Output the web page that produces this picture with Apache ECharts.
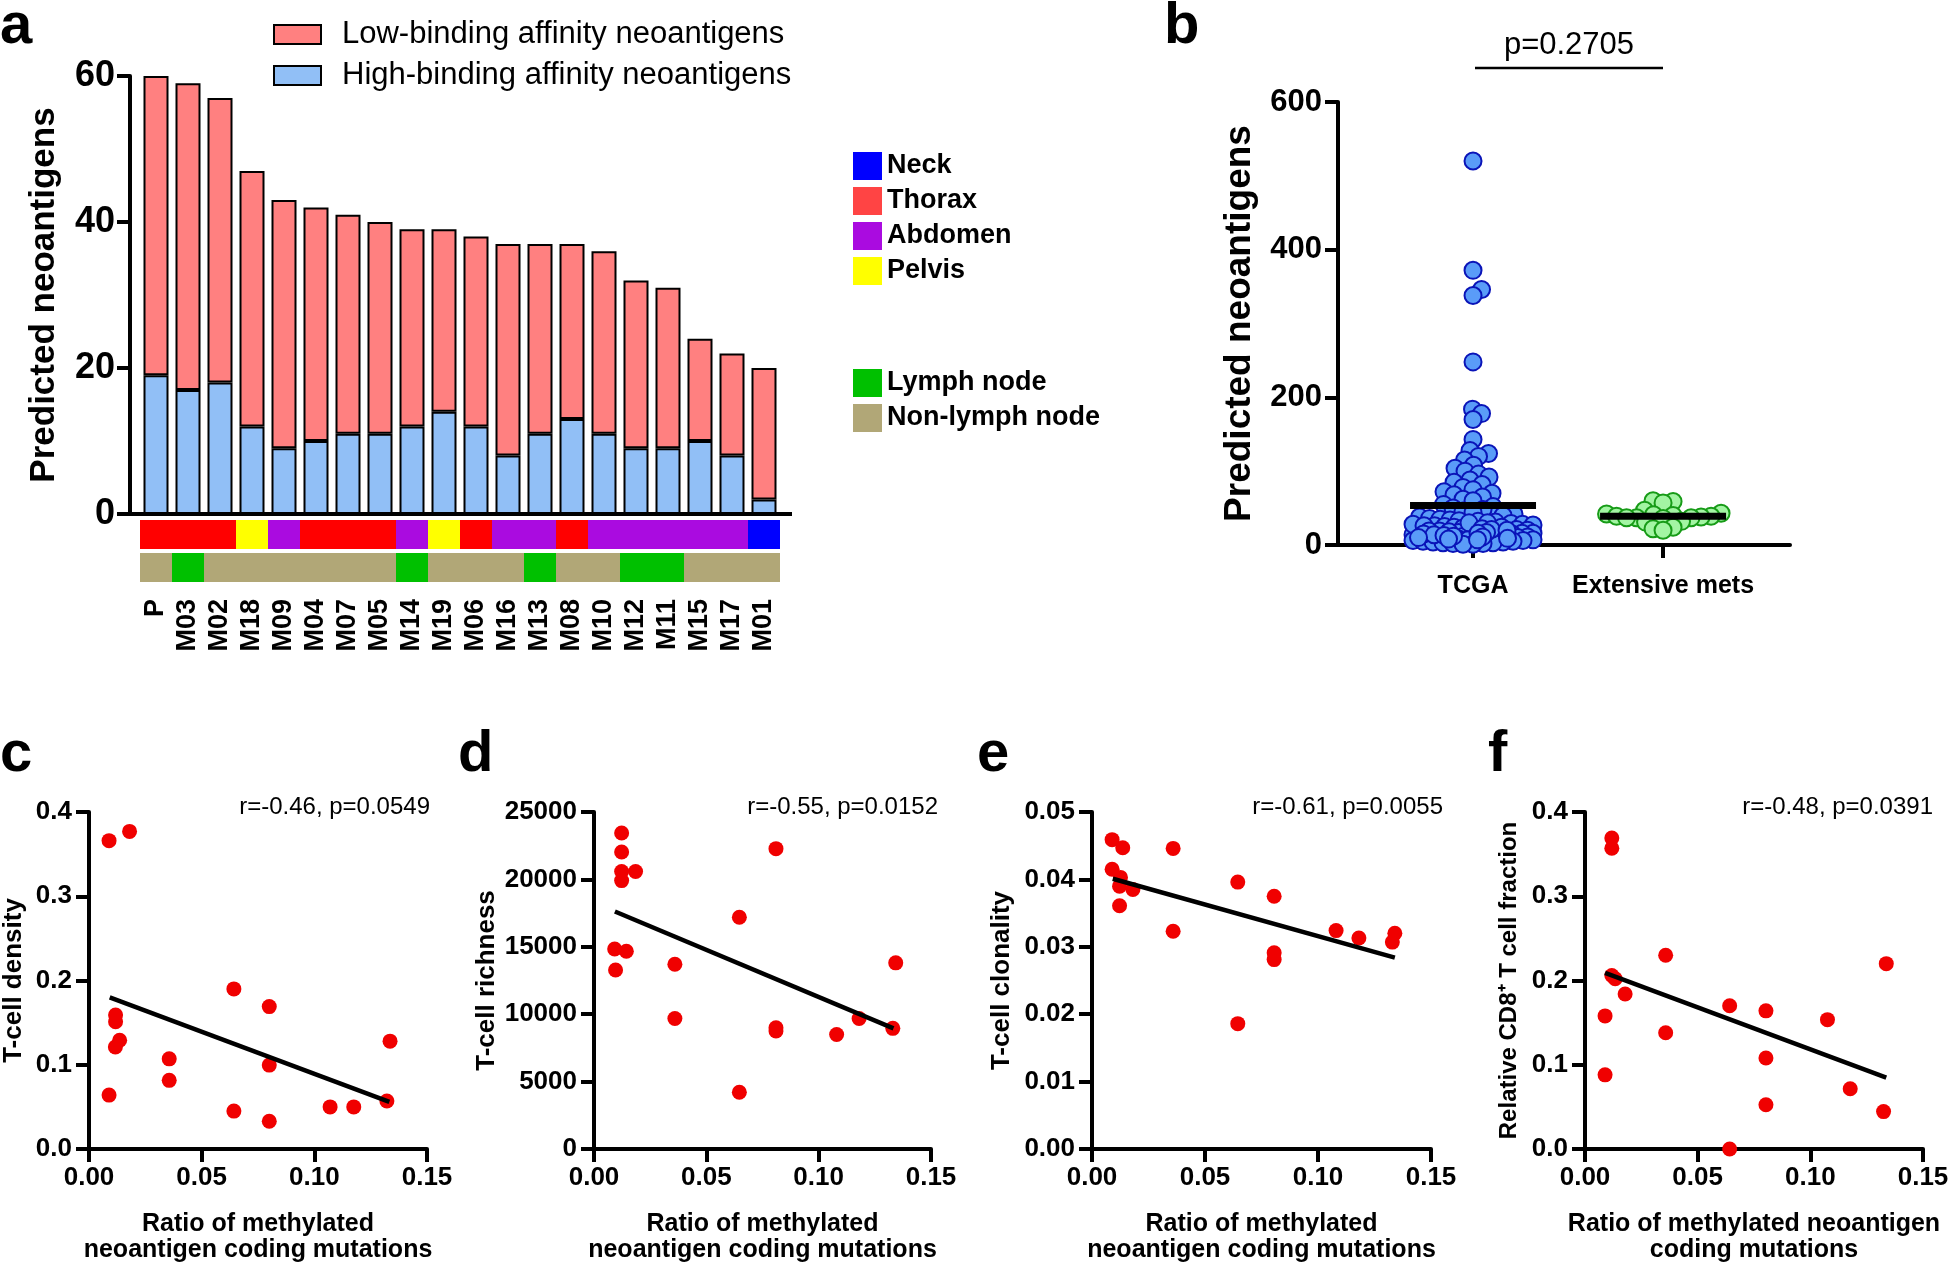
<!DOCTYPE html>
<html><head><meta charset="utf-8">
<script src="https://cdn.jsdelivr.net/npm/echarts@6/dist/echarts.min.js"></script>
<style>html,body{margin:0;padding:0;background:#fff}#chart{width:1952px;height:1265px}</style>
</head><body><div id="chart"></div>
<script>
// ---------- DATA ----------
const samples = ['P','M03','M02','M18','M09','M04','M07','M05','M14','M19','M06','M16','M13','M08','M10','M12','M11','M15','M17','M01'];
const highBinding = [19,17,18,12,9,10,11,11,12,14,12,8,11,13,11,9,9,10,8,2];
const lowBinding  = [41,42,39,35,34,32,30,29,27,25,26,29,26,24,25,23,22,14,14,18];
const siteOf = ['Thorax','Thorax','Thorax','Pelvis','Abdomen','Thorax','Thorax','Thorax','Abdomen','Pelvis','Thorax','Abdomen','Abdomen','Thorax','Abdomen','Abdomen','Abdomen','Abdomen','Abdomen','Neck'];
const nodeOf = ['Non-lymph node','Lymph node','Non-lymph node','Non-lymph node','Non-lymph node','Non-lymph node','Non-lymph node','Non-lymph node','Lymph node','Non-lymph node','Non-lymph node','Non-lymph node','Lymph node','Non-lymph node','Non-lymph node','Lymph node','Lymph node','Non-lymph node','Non-lymph node','Non-lymph node'];
const sites = ['Neck','Thorax','Abdomen','Pelvis'];
const nodeTypes = ['Lymph node','Non-lymph node'];

const groups = ['TCGA','Extensive mets'];
const tcgaCounts = [520,372,346,338,248,184,178,170,143,128,124,120,115,
  108,104,100,96,92,88,85,82,78,75,72,70,68,65,62,60,
  55,52,50,48,46,44,42,40,38,36,35,34,33,32,31,30,29,28,27,26,25,24,23,22,21,20,20,19,18,18,17,16,16,15,14,14,13,12,12,11,10,10,9,9,8,8,7,7,6,6,5,5,4,4,3,3,2,2,1,1,
  30,28,26,24,22,21,20,19,18,17,16,15,14,13,12,11,10,9,8,7];
const metsCounts = highBinding.map((h,i)=>h+lowBinding[i]);
const pValueB = 'p=0.2705';

const cX = [0.0089,0.018,0.0118,0.0118,0.0136,0.0117,0.0089,0.0356,0.0356,0.0643,0.0643,0.080,0.080,0.080,0.107,0.1175,0.1336,0.1322];
const cY = [0.366,0.377,0.159,0.151,0.129,0.121,0.064,0.107,0.0815,0.190,0.045,0.169,0.0996,0.033,0.050,0.050,0.128,0.057];
const cFit = [[0.0092,0.180],[0.1333,0.056]];

const dX = [0.0123,0.0123,0.0123,0.0185,0.0123,0.0092,0.0144,0.0096,0.036,0.036,0.0647,0.0647,0.081,0.081,0.081,0.108,0.118,0.1343,0.133];
const dY = [23440,22030,20590,20590,19910,14840,14670,13280,13710,9680,17190,4210,22280,9000,8750,8490,9680,13810,8950];
const dFit = [[0.0093,17620],[0.1333,8950]];

const eX = [0.0089,0.0136,0.0359,0.0089,0.0126,0.0122,0.0181,0.0122,0.0359,0.0645,0.0645,0.0806,0.0806,0.0806,0.108,0.1181,0.134,0.1329];
const eY = [0.0459,0.0447,0.0446,0.0415,0.0403,0.0390,0.0385,0.0361,0.0323,0.0396,0.0186,0.0375,0.0291,0.0281,0.0324,0.0313,0.0320,0.0307];
const eFit = [[0.0092,0.0401],[0.134,0.0284]];

const fX = [0.0119,0.0119,0.0119,0.0134,0.0178,0.0089,0.0089,0.0358,0.0358,0.0642,0.0642,0.0803,0.0803,0.0803,0.1076,0.1177,0.1337,0.1325];
const fY = [0.369,0.357,0.206,0.202,0.184,0.158,0.088,0.230,0.138,0.170,0.0,0.164,0.108,0.0525,0.1535,0.0715,0.220,0.0444];
const fFit = [[0.0089,0.209],[0.1337,0.0848]];

const xTicksCF = [0, 0.15, 0.05];

// ---------- STYLE ----------
const FF = "'Liberation Sans', Arial, Helvetica, sans-serif";
const siteColors = {Neck:'#0000FF', Thorax:'#FF0000', Abdomen:'#AA0BE0', Pelvis:'#FFFF00'};
const nodeColors = {'Lymph node':'#00C000','Non-lymph node':'#B1A777'};
const black = '#000';

// beeswarm layout (pixel offsets) computed from values, confined to +-W px
function swarm(vals, pxPerUnit, d, W) {
  const placed = [], out = new Array(vals.length);
  const idx = vals.map((v,i)=>i).sort((a,b)=>vals[a]-vals[b]);
  idx.forEach((i, n) => {
    const y = vals[i]*pxPerUnit;
    let chosen = null, best = 0, bestScore = -1;
    for (let k=0; k*0.5<=W && chosen===null; k++) {
      const s = k*0.5;
      const cands = k===0 ? [0] : (n%2 ? [-s, s] : [s, -s]);
      for (const x of cands) {
        let md = Infinity;
        for (const p of placed) { const dd = Math.hypot(p.x-x, p.y-y); if (dd < md) md = dd; }
        if (md >= d) { chosen = x; break; }
        if (md > bestScore) { bestScore = md; best = x; }
      }
    }
    const x = chosen !== null ? chosen : best;
    placed.push({x, y});
    out[i] = x;
  });
  return out;
}

const B = {left:1338, top:102, width:452, height:443, xMin:0.2895, xMax:2.668, yMax:600};
const bPxX = B.width/(B.xMax-B.xMin), bPxY = B.height/B.yMax;
const tOff = swarm(tcgaCounts, bPxY, 10, 60);
const mOff = swarm(metsCounts, bPxY, 10, 60);
const mean = a => a.reduce((s,v)=>s+v,0)/a.length;

const grid = [
  {left:140, top:76, width:640, height:438},
  {left:140, top:520, width:640, height:29},
  {left:140, top:553, width:640, height:29},
  {left:B.left, top:B.top, width:B.width, height:B.height}
];
const xAxis = [
  {gridIndex:0, type:'category', data:samples,
   axisLine:{lineStyle:{color:black,width:4}}, axisTick:{show:false},
   axisLabel:{interval:0, rotate:90, margin:85, color:black, fontWeight:'bold', fontSize:27, fontFamily:FF}},
  {gridIndex:1, type:'category', data:samples, show:false},
  {gridIndex:2, type:'category', data:samples, show:false},
  {gridIndex:3, type:'value', min:B.xMin, max:B.xMax,
   axisLine:{lineStyle:{color:black,width:4}}, splitLine:{show:false},
   axisTick:{show:true, customValues:[1,2], length:13, lineStyle:{color:black,width:4}},
   axisLabel:{customValues:[1,2], formatter:v=>groups[Math.round(v)-1], margin:29, color:black, fontWeight:'bold', fontSize:25, fontFamily:FF}}
];
const axisBase = {
  axisLine:{show:true, lineStyle:{color:black,width:4}},
  axisTick:{show:true, length:13, lineStyle:{color:black,width:4}},
  splitLine:{show:false}
};
const yAxis = [
  Object.assign({gridIndex:0, type:'value', min:0, max:60, interval:20, offset:10,
   axisLabel:{margin:15, color:black, fontWeight:'bold', fontSize:36, fontFamily:FF},
   name:'Predicted neoantigens', nameLocation:'middle', nameGap:68,
   nameTextStyle:{color:black, fontWeight:'bold', fontSize:35, fontFamily:FF}}, axisBase),
  {gridIndex:1, type:'value', min:0, max:1, show:false},
  {gridIndex:2, type:'value', min:0, max:1, show:false},
  Object.assign({gridIndex:3, type:'value', min:0, max:600, interval:200,
   axisLabel:{margin:16, color:black, fontWeight:'bold', fontSize:31, fontFamily:FF},
   name:'Predicted neoantigens', nameLocation:'middle', nameGap:80,
   nameTextStyle:{color:black, fontWeight:'bold', fontSize:37, fontFamily:FF}}, axisBase)
];

const series = [
  {name:'High-binding affinity neoantigens', type:'bar', stack:'n', xAxisIndex:0, yAxisIndex:0, data:highBinding, barWidth:25,
   itemStyle:{color:'#91BFF6', borderColor:black, borderWidth:2}},
  {name:'Low-binding affinity neoantigens', type:'bar', stack:'n', xAxisIndex:0, yAxisIndex:0, data:lowBinding, barWidth:25,
   itemStyle:{color:'#FF8080', borderColor:black, borderWidth:2}}
];
sites.forEach(s => series.push({name:s, type:'bar', xAxisIndex:1, yAxisIndex:1, barWidth:'100%', barGap:'-100%',
  data: siteOf.map(v => v===s ? 1 : '-'), itemStyle:{color:siteColors[s]}, silent:true}));
nodeTypes.forEach(s => series.push({name:s, type:'bar', xAxisIndex:2, yAxisIndex:2, barWidth:'100%', barGap:'-100%',
  data: nodeOf.map(v => v===s ? 1 : '-'), itemStyle:{color:nodeColors[s]}, silent:true}));

series.push({type:'scatter', xAxisIndex:3, yAxisIndex:3, symbolSize:17,
  data: tcgaCounts.map((v,i)=>[1+tOff[i]/bPxX, v]),
  itemStyle:{color:'#5A9CF8', borderColor:'#0A14B8', borderWidth:2, opacity:1}});
series.push({type:'scatter', xAxisIndex:3, yAxisIndex:3, symbolSize:17,
  data: metsCounts.map((v,i)=>[2+mOff[i]/bPxX, v]),
  itemStyle:{color:'#A3F5A3', borderColor:'#179B17', borderWidth:2, opacity:1}});
series.push({type:'scatter', xAxisIndex:3, yAxisIndex:3, symbol:'rect', symbolSize:[126,7], z:5,
  data:[[1, mean(tcgaCounts)],[2, mean(metsCounts)]], itemStyle:{color:black, opacity:1}});

// ---------- panels c-f ----------
const graphic = [];
function scatterPanel(p) {
  const gi = grid.length;
  grid.push({left:p.left, top:812, width:p.width, height:337});
  xAxis.push(Object.assign({gridIndex:gi, type:'value', min:xTicksCF[0], max:xTicksCF[1], interval:xTicksCF[2],
    axisLabel:{margin:16, color:black, fontWeight:'bold', fontSize:26, fontFamily:FF, formatter:v=>v.toFixed(2)},
    name:p.xName, nameLocation:'middle', nameGap:62,
    nameTextStyle:{color:black, fontWeight:'bold', fontSize:25, lineHeight:26, fontFamily:FF}}, axisBase));
  yAxis.push(Object.assign({gridIndex:gi, type:'value', min:0, max:p.yMax, interval:p.yInt,
    axisLabel:{margin:17, color:black, fontWeight:'bold', fontSize:26, fontFamily:FF, formatter:v=>v.toFixed(p.dec)},
    name:p.yName, nameLocation:'middle', nameGap:p.yGap,
    nameTextStyle:{color:black, fontWeight:'bold', fontSize:p.yNameSize, fontFamily:FF}}, axisBase));
  series.push({type:'scatter', xAxisIndex:gi, yAxisIndex:gi, symbolSize:15, clip:false,
    data:p.xs.map((x,i)=>[x, p.ys[i]]), itemStyle:{color:'#F00000', opacity:1}});
  series.push({type:'line', xAxisIndex:gi, yAxisIndex:gi, data:p.fit, symbol:'none', z:4,
    lineStyle:{color:black, width:4.5}, silent:true});
  graphic.push({type:'text', x:p.noteX, y:807, style:{text:p.note, fill:black, font:'24px '+FF, align:'right', verticalAlign:'middle'}});
}
scatterPanel({left:89, width:338, xs:cX, ys:cY, fit:cFit, yMax:0.4, yInt:0.1, dec:1, yName:'T-cell density', yGap:62, yNameSize:26,
  xName:'Ratio of methylated\nneoantigen coding mutations', note:'r=-0.46, p=0.0549', noteX:430});
scatterPanel({left:594, width:337, xs:dX, ys:dY, fit:dFit, yMax:25000, yInt:5000, dec:0, yName:'T-cell richness', yGap:94, yNameSize:26,
  xName:'Ratio of methylated\nneoantigen coding mutations', note:'r=-0.55, p=0.0152', noteX:938});
scatterPanel({left:1092, width:339, xs:eX, ys:eY, fit:eFit, yMax:0.05, yInt:0.01, dec:2, yName:'T-cell clonality', yGap:77, yNameSize:26,
  xName:'Ratio of methylated\nneoantigen coding mutations', note:'r=-0.61, p=0.0055', noteX:1443});
scatterPanel({left:1585, width:338, xs:fX, ys:fY, fit:fFit, yMax:0.4, yInt:0.1, dec:1, yName:'Relative CD8\u207A T cell fraction', yGap:64, yNameSize:24,
  xName:'Ratio of methylated neoantigen\ncoding mutations', note:'r=-0.48, p=0.0391', noteX:1933});

// panel letters & annotations
[['a',0,27],['b',1164,27],['c',0,755],['d',458,755],['e',977,755],['f',1488,755]].forEach(([t,x,y]) =>
  graphic.push({type:'text', x, y, style:{text:t, fill:black, font:'bold 58px '+FF, align:'left', verticalAlign:'middle'}}));
graphic.push({type:'text', x:1569, y:45, style:{text:pValueB, fill:black, font:'31px '+FF, align:'center', verticalAlign:'middle'}});
graphic.push({type:'line', shape:{x1:1475, y1:68, x2:1663, y2:68}, style:{stroke:black, lineWidth:2.5}});
graphic.push({type:'line', shape:{x1:128, y1:514, x2:792, y2:514}, style:{stroke:black, lineWidth:4}, z:10});

const legendBase = {orient:'vertical', selectedMode:false, icon:'rect'};
const option = {
  animation:false,
  backgroundColor:'#fff',
  textStyle:{fontFamily:FF},
  grid, xAxis, yAxis, series, graphic,
  legend:[
    Object.assign({data:['Low-binding affinity neoantigens','High-binding affinity neoantigens'], left:268, top:14,
      itemWidth:47, itemHeight:19, itemGap:10, formatter:n=>'{t|'+n+'}',
      textStyle:{color:black, fontSize:31, fontFamily:FF, rich:{t:{fontSize:31, color:black, fontFamily:FF, padding:[0,0,0,16]}}}}, legendBase),
    Object.assign({data:sites.map(s=>({name:s, itemStyle:{color: s==='Thorax' ? '#FF4444' : siteColors[s]}})), left:848, top:147,
      itemWidth:29, itemHeight:28, itemGap:7,
      textStyle:{color:black, fontSize:27, fontWeight:'bold', fontFamily:FF}}, legendBase),
    Object.assign({data:nodeTypes, left:848, top:364, itemWidth:29, itemHeight:28, itemGap:7,
      textStyle:{color:black, fontSize:27, fontWeight:'bold', fontFamily:FF}}, legendBase)
  ]
};
const chart = echarts.init(document.getElementById('chart'));
chart.setOption(option);
</script></body></html>
